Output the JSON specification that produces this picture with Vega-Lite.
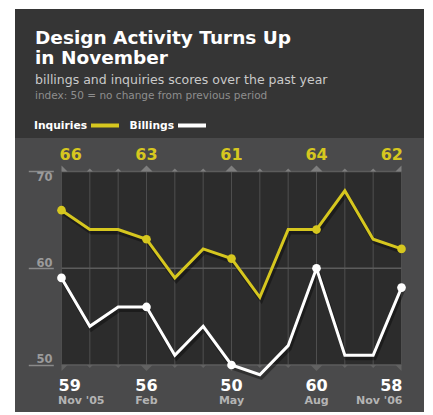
{
  "$schema": "https://vega.github.io/schema/vega-lite/v6.json",
  "background": "#ffffff",
  "padding": {"left": 15, "top": 9, "right": 9, "bottom": 3},
  "spacing": 0,
  "bounds": "flush",
  "vconcat": [
    {
      "width": 409,
      "height": 129,
      "view": {"fill": "#353535", "stroke": null},
      "data": {"values": [{}]},
      "mark": {"type": "point", "opacity": 0},
      "encoding": {},
      "title": {
        "text": ["Design Activity Turns Up", "in November"],
        "subtitle": "billings and inquiries scores over the past year",
        "anchor": "start",
        "frame": "group",
        "orient": "top",
        "offset": -77,
        "dx": 20,
        "font": "DejaVu Sans",
        "fontSize": 18.5,
        "fontWeight": "bold",
        "color": "#ffffff",
        "lineHeight": 20,
        "subtitleFont": "DejaVu Sans",
        "subtitleFontSize": 12.5,
        "subtitleColor": "#cacaca",
        "subtitlePadding": 6
      }
    },
    {
      "width": 409,
      "height": 274,
      "view": {"fill": "#4a4a4b", "stroke": null},
      "title": {
        "text": "index: 50 = no change from previous period",
        "anchor": "start",
        "frame": "group",
        "orient": "top",
        "offset": 28.9,
        "dx": 20,
        "baseline": "alphabetic",
        "font": "DejaVu Sans",
        "fontSize": 10.5,
        "fontWeight": "normal",
        "color": "#8e8e8e"
      },
      "data": {
        "values": [
          {"m": 0, "month": "Nov '05", "Inquiries": 66, "Billings": 59},
          {"m": 1, "month": "Dec", "Inquiries": 64, "Billings": 54},
          {"m": 2, "month": "Jan", "Inquiries": 64, "Billings": 56},
          {"m": 3, "month": "Feb", "Inquiries": 63, "Billings": 56},
          {"m": 4, "month": "Mar", "Inquiries": 59, "Billings": 51},
          {"m": 5, "month": "Apr", "Inquiries": 62, "Billings": 54},
          {"m": 6, "month": "May", "Inquiries": 61, "Billings": 50},
          {"m": 7, "month": "Jun", "Inquiries": 57, "Billings": 49},
          {"m": 8, "month": "Jul", "Inquiries": 64, "Billings": 52},
          {"m": 9, "month": "Aug", "Inquiries": 64, "Billings": 60},
          {"m": 10, "month": "Sep", "Inquiries": 68, "Billings": 51},
          {"m": 11, "month": "Oct", "Inquiries": 63, "Billings": 51},
          {"m": 12, "month": "Nov '06", "Inquiries": 62, "Billings": 58}
        ]
      },
      "layer": [
        {
          "data": {"values": [{}]},
          "mark": {"type": "rect", "color": "#2c2c2c"},
          "encoding": {
            "x": {"datum": 0, "type": "quantitative", "scale": {"domain": [-1.641, 12.794], "nice": false, "zero": false}, "axis": null},
            "x2": {"datum": 12},
            "y": {
              "datum": 50, "type": "quantitative",
              "scale": {"domain": [45.142, 73.462], "nice": false, "zero": false},
              "axis": {
                "orient": "left", "values": [50, 60, 70], "offset": -38.3,
                "domain": false, "grid": false, "ticks": true, "tickSize": 25,
                "tickColor": "#8a8a8a", "tickWidth": 1.5,
                "labelPadding": -23.7, "labelAlign": "right",
                "labelBaseline": {"condition": {"test": "datum.value == 70", "value": "top"}, "value": "alphabetic"},
                "labelOffset": {"condition": {"test": "datum.value == 70", "value": 0}, "value": -2},
                "labelColor": "#9b9b9b", "labelFont": "DejaVu Sans", "labelFontWeight": "bold", "labelFontSize": 11.5,
                "title": null
              }
            },
            "y2": {"datum": 70}
          }
        },
        {
          "mark": {"type": "rule", "color": "#4f4f4f", "strokeWidth": 1},
          "encoding": {
            "x": {"field": "m", "type": "quantitative"},
            "y": {"datum": 50, "type": "quantitative"},
            "y2": {"datum": 70}
          }
        },
        {
          "data": {"values": [{"level": 50}, {"level": 60}, {"level": 70}]},
          "mark": {"type": "rule", "color": "#5c5c5c", "strokeWidth": 1.5},
          "encoding": {
            "x": {"datum": 0, "type": "quantitative"},
            "x2": {"datum": 12},
            "y": {"field": "level", "type": "quantitative"}
          }
        },
        {
          "mark": {"type": "point", "filled": true, "color": "#7e7e7e", "opacity": 1, "strokeWidth": 0},
          "encoding": {
            "x": {"field": "m", "type": "quantitative"},
            "y": {"datum": 70, "type": "quantitative"},
            "shape": {"condition": [{"test": "datum.m == 0", "value": "M0,0L0,-1L1,0Z"}, {"test": "datum.m == 12", "value": "M-1,0L0,-1L0,0Z"}], "value": "M-1,0L0,-1L1,0Z"},
            "size": {"condition": {"test": "datum.m % 3 == 0", "value": 144}, "value": 36}
          }
        },
        {
          "mark": {"type": "point", "filled": true, "color": "#626262", "opacity": 1, "strokeWidth": 0},
          "encoding": {
            "x": {"field": "m", "type": "quantitative"},
            "y": {"datum": 50, "type": "quantitative"},
            "shape": {"condition": [{"test": "datum.m == 0", "value": "M0,0L0,1L1,0Z"}, {"test": "datum.m == 12", "value": "M-1,0L0,1L0,0Z"}], "value": "M-1,0L0,1L1,0Z"},
            "size": {"condition": {"test": "datum.m % 3 == 0", "value": 144}, "value": 36}
          }
        },
        {
          "transform": [{"fold": ["Inquiries", "Billings"], "as": ["series", "score"]}],
          "mark": {"type": "line", "color": "#000000", "opacity": 0.35, "strokeWidth": 4, "xOffset": 1.5, "yOffset": 3},
          "encoding": {
            "x": {"field": "m", "type": "quantitative"},
            "y": {"field": "score", "type": "quantitative"},
            "detail": {"field": "series"}
          }
        },
        {
          "transform": [{"fold": ["Inquiries", "Billings"], "as": ["series", "score"]}],
          "mark": {"type": "line", "strokeWidth": 3},
          "encoding": {
            "x": {"field": "m", "type": "quantitative"},
            "y": {"field": "score", "type": "quantitative"},
            "color": {
              "field": "series", "type": "nominal",
              "scale": {"domain": ["Inquiries", "Billings"], "range": ["#d6c71f", "#ffffff"]},
              "legend": {
                "orient": "none", "legendX": 74, "legendY": 100.5, "direction": "horizontal",
                "title": null,
                "symbolType": "stroke", "symbolSize": 784, "symbolStrokeWidth": 4,
                "labelAlign": "right", "labelOffset": -34, "labelColor": "#ffffff",
                "labelFont": "DejaVu Sans", "labelFontWeight": "bold", "labelFontSize": 10.7,
                "columnPadding": 2, "labelLimit": 200
              }
            }
          }
        },
        {
          "transform": [{"filter": "datum.m % 3 == 0"}, {"fold": ["Inquiries", "Billings"], "as": ["series", "score"]}],
          "mark": {"type": "point", "filled": true, "opacity": 1, "size": 75},
          "encoding": {
            "x": {"field": "m", "type": "quantitative"},
            "y": {"field": "score", "type": "quantitative"},
            "color": {"field": "series", "type": "nominal", "legend": null}
          }
        },
        {
          "transform": [{"filter": "datum.m % 3 == 0"}],
          "mark": {"type": "text", "color": "#d6c71f", "font": "DejaVu Sans", "fontWeight": "bold", "fontSize": 16, "dy": -11.5, "baseline": "alphabetic",
            "align": {"expr": "datum.m == 0 ? 'left' : datum.m == 12 ? 'right' : 'center'"},
            "dx": {"expr": "datum.m == 0 ? -2 : datum.m == 12 ? 1.5 : 0"}},
          "encoding": {
            "x": {"field": "m", "type": "quantitative"},
            "y": {"datum": 70, "type": "quantitative"},
            "text": {"field": "Inquiries"}
          }
        },
        {
          "transform": [{"filter": "datum.m % 3 == 0"}],
          "mark": {"type": "text", "color": "#ffffff", "font": "DejaVu Sans", "fontWeight": "bold", "fontSize": 16, "dy": 26, "baseline": "alphabetic",
            "align": {"expr": "datum.m == 0 ? 'left' : datum.m == 12 ? 'right' : 'center'"},
            "dx": {"expr": "datum.m == 0 ? -3 : datum.m == 12 ? 1 : 0"}},
          "encoding": {
            "x": {"field": "m", "type": "quantitative"},
            "y": {"datum": 50, "type": "quantitative"},
            "text": {"field": "Billings"}
          }
        },
        {
          "transform": [{"filter": "datum.m % 3 == 0"}],
          "mark": {"type": "text", "color": "#b4b4b4", "font": "DejaVu Sans", "fontWeight": "bold", "fontSize": 11, "dy": 39, "baseline": "alphabetic",
            "align": {"expr": "datum.m == 0 ? 'left' : datum.m == 12 ? 'right' : 'center'"},
            "dx": {"expr": "datum.m == 0 ? -3.5 : datum.m == 12 ? 1 : 0"}},
          "encoding": {
            "x": {"field": "m", "type": "quantitative"},
            "y": {"datum": 50, "type": "quantitative"},
            "text": {"field": "month"}
          }
        }
      ]
    }
  ]
}
